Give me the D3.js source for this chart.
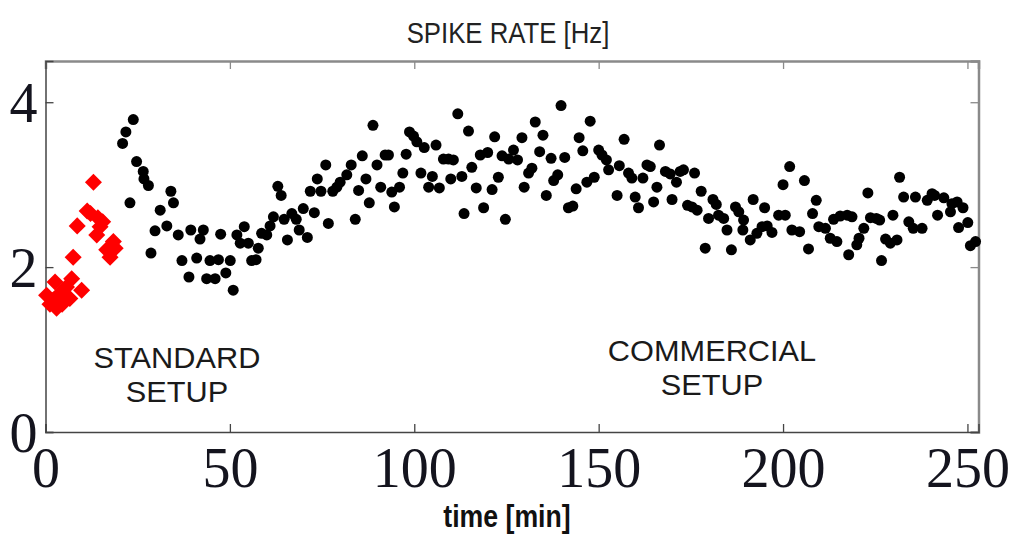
<!DOCTYPE html>
<html>
<head>
<meta charset="utf-8">
<script src="https://cdn.jsdelivr.net/npm/d3@7/dist/d3.min.js"></script>
<style>
  html, body { margin: 0; padding: 0; background: #fff; }
  svg { display: block; }
</style>
</head>
<body>
<svg id="chart" width="1012" height="536"></svg>
<script>
// Spike rate recorded with the standard setup (red diamonds)
const standardTime = [0.3, 1.2, 2.1, 2.6, 3.0, 3.9, 4.5, 5.7, 6.6, 7.1, 7.5, 8.6, 9.8,
  11.3, 12.2, 13.0, 13.9, 14.2, 14.8, 15.5, 16.6, 17.5, 18.4, 18.9];
const standardRate = [1.66, 1.55, 1.60, 1.82, 1.50, 1.68, 1.55, 1.76, 1.62, 1.86, 2.12, 2.50, 1.72,
  2.68, 2.65, 3.03, 2.39, 2.60, 2.49, 2.55, 2.21, 2.12, 2.31, 2.23];

// Spike rate recorded with the commercial setup (black dots)
const commercialTime = [20.9, 21.8, 22.9, 23.8, 24.7, 26.5, 26.7, 27.9, 28.6, 29.7, 31.1, 32.9, 34.0, 34.7,
  36.0, 37.0, 38.9, 39.4, 41.0, 41.9, 42.8, 43.7, 44.6, 46.0, 46.9, 47.5, 48.9, 50.1, 50.9, 51.9,
  52.8, 53.9, 55.0, 55.9, 57.1, 57.7, 58.6, 60.0, 60.9, 61.8, 63.0, 63.9, 64.7, 65.6, 66.8, 68.0,
  68.8, 69.9, 71.0, 71.8, 72.9, 73.7, 74.7, 76.0, 76.7, 77.9, 79.0, 79.9, 81.7, 82.9, 84.0, 84.9,
  85.9, 86.9, 87.8, 88.8, 89.9, 90.9, 92.1, 93.0, 93.9, 94.6, 96.0, 96.9, 97.8, 98.7, 99.8, 100.7,
  101.8, 102.7, 103.9, 104.9, 105.9, 106.8, 107.9, 109.3, 109.9, 110.6, 111.8, 112.9, 113.5, 114.7,
  115.6, 116.8, 117.9, 118.8, 119.9, 121.1, 121.8, 122.8, 123.8, 124.7, 125.6, 126.9, 128.0, 129.2,
  129.8, 131.0, 131.9, 132.8, 134.0, 134.9, 135.8, 137.1, 137.8, 138.9, 139.8, 140.8, 141.8, 143.0,
  143.9, 144.7, 145.7, 146.8, 147.7, 148.8, 150.0, 150.9, 152.1, 152.7, 155.0, 155.6, 156.9, 158.1,
  159.0, 159.9, 160.8, 162.0, 163.1, 164.0, 164.9, 165.8, 166.5, 168.1, 169.4, 169.9, 171.1, 172.1,
  173.0, 174.1, 175.3, 176.0, 176.7, 177.8, 178.9, 179.8, 181.0, 181.9, 182.5, 183.9, 184.8, 186.0,
  187.1, 188.0, 189.1, 189.3, 191.1, 191.9, 192.9, 194.3, 195.0, 195.7, 197.0, 198.8, 200.0, 200.6,
  201.8, 202.4, 204.5, 205.8, 206.9, 208.0, 209.0, 209.7, 211.5, 212.8, 213.7, 214.6, 215.5, 217.4,
  217.8, 218.7, 220.0, 220.6, 221.9, 223.0, 223.7, 225.3, 226.2, 226.7, 227.8, 229.1, 229.8, 230.9,
  231.6, 232.7, 234.1, 235.3, 235.9, 237.7, 239.1, 240.4, 241.1, 241.9, 243.6, 245.4, 245.8, 247.2,
  247.6, 248.8, 250.1, 250.8, 252.2];
const commercialRate = [3.50, 3.64, 2.78, 3.79, 3.28, 3.16, 3.07, 2.99, 2.17, 2.44, 2.69, 2.50, 2.92, 2.78,
  2.39, 2.08, 1.88, 2.45, 2.11, 2.34, 2.45, 1.86, 2.08, 1.86, 2.09, 2.40, 1.93, 2.08, 1.72, 2.39,
  2.29, 2.49, 2.29, 2.08, 2.09, 2.23, 2.41, 2.39, 2.50, 2.61, 2.98, 2.87, 2.58, 2.33, 2.65, 2.58,
  2.45, 2.71, 2.36, 2.92, 2.66, 3.07, 2.92, 3.24, 2.53, 2.92, 2.97, 3.03, 3.12, 3.24, 2.58, 2.93,
  3.35, 3.07, 2.78, 3.72, 3.24, 2.97, 3.36, 3.36, 2.91, 2.73, 2.97, 3.14, 3.37, 3.64, 3.59, 3.52,
  3.14, 3.45, 2.97, 3.10, 3.48, 2.96, 3.31, 3.31, 3.07, 3.30, 3.86, 3.10, 2.65, 3.65,
  3.21, 2.96, 3.36, 2.72, 3.39, 2.94, 3.58, 3.09, 3.35, 2.58, 3.31, 3.42, 3.30, 3.57,
  2.97, 3.14, 3.20, 3.76, 3.40, 3.60, 2.87, 3.32, 3.05, 3.12, 3.96, 3.33, 2.72, 2.74,
  2.95, 3.57, 3.41, 3.03, 3.77, 3.09, 3.42, 3.36, 3.30, 3.18, 2.87, 3.23, 3.55, 3.14,
  3.08, 2.85, 2.72, 3.08, 3.24, 3.22, 2.79, 2.97, 3.48, 3.16, 3.13, 2.82, 3.03, 3.16,
  3.18, 2.75, 2.73, 3.14, 2.69, 2.92, 2.23, 2.59, 2.82, 2.76, 2.63, 2.59, 2.45, 2.21,
  2.73, 2.67, 2.45, 2.57, 2.33, 2.82, 2.41, 2.49, 2.72, 2.50, 2.42, 2.63, 3.00, 2.63,
  3.22, 2.45, 2.43, 3.05, 2.22, 2.65, 2.81, 2.49, 2.47, 2.35, 2.58, 2.31, 2.62, 2.63,
  2.15, 2.61, 2.27, 2.35, 2.47, 2.90, 2.60, 2.59, 2.57, 2.08, 2.34, 2.29, 2.63, 2.33,
  3.09, 2.85, 2.55, 2.47, 2.85, 2.47, 2.81, 2.89, 2.87, 2.63, 2.84, 2.67, 2.77, 2.79,
  2.48, 2.72, 2.54, 2.26, 2.31];

const xTicks = [0, 50, 100, 150, 200, 250];
const yTicks = [0, 2, 4];
const xDomain = [0, 253];
const yDomain = [0, 4.5];

const svg = d3.select("#chart");
const plotLeft = 45.5, plotRight = 978.5, plotTop = 61, plotBottom = 432;

const x = d3.scaleLinear().domain(xDomain).range([plotLeft, plotRight]);
const y = d3.scaleLinear().domain(yDomain).range([plotBottom, plotTop]);

const serif = "'Liberation Serif', 'Times New Roman', serif";
const sans = "'Liberation Sans', Arial, sans-serif";

// Axes with inward ticks on all four sides
const tickLen = 8;
const bottomAxis = d3.axisBottom(x).tickValues(xTicks).tickSize(-tickLen).tickPadding(15).tickFormat(d3.format("d"));
const topAxis = d3.axisTop(x).tickValues(xTicks).tickSize(-tickLen).tickFormat("");
const leftAxis = d3.axisLeft(y).tickValues(yTicks).tickSize(-tickLen).tickPadding(8).tickFormat(d3.format("d"));
const rightAxis = d3.axisRight(y).tickValues(yTicks).tickSize(-tickLen).tickFormat("");

function styleAxis(g, color, width) {
  g.select(".domain").attr("stroke", color).attr("stroke-width", width);
  g.selectAll(".tick line").attr("stroke", color).attr("stroke-width", 1.3);
}

const gTop = svg.append("g").attr("transform", `translate(0,${plotTop})`).call(topAxis);
styleAxis(gTop, "#8a8a8a", 2.5);
const gRight = svg.append("g").attr("transform", `translate(${plotRight},0)`).call(rightAxis);
styleAxis(gRight, "#8a8a8a", 2.5);

const gBottom = svg.append("g").attr("transform", `translate(0,${plotBottom})`).call(bottomAxis);
styleAxis(gBottom, "#444", 1.5);
gBottom.selectAll(".tick text")
  .attr("font-family", serif).attr("font-size", 56).attr("fill", "#14141e")
  .attr("dy", "0.71em");

const gLeft = svg.append("g").attr("transform", `translate(${plotLeft},0)`).call(leftAxis);
styleAxis(gLeft, "#444", 1.5);
gLeft.selectAll(".tick text")
  .attr("font-family", serif).attr("font-size", 56).attr("fill", "#14141e")
  .attr("dy", "0.34em");

// Data points
svg.append("g").selectAll("circle")
  .data(commercialTime.map((t, i) => [t, commercialRate[i]]))
  .join("circle")
  .attr("cx", d => x(d[0]))
  .attr("cy", d => y(d[1]))
  .attr("r", 5.5)
  .attr("fill", "#000");

const diamond = d3.symbol().type(d3.symbolSquare).size(145);
svg.append("g").selectAll("path")
  .data(standardTime.map((t, i) => [t, standardRate[i]]))
  .join("path")
  .attr("d", diamond)
  .attr("transform", d => `translate(${x(d[0])},${y(d[1])}) rotate(45)`)
  .attr("fill", "#ff0000");

// Title and axis label
svg.append("text")
  .attr("transform", "translate(508,43) scale(0.92,1.08)")
  .attr("text-anchor", "middle")
  .attr("font-family", sans).attr("font-size", 28).attr("fill", "#222")
  .text("SPIKE RATE [Hz]");

svg.append("text")
  .attr("transform", "translate(507,527) scale(0.92,1.08)")
  .attr("text-anchor", "middle")
  .attr("font-family", sans).attr("font-size", 29).attr("font-weight", "bold").attr("fill", "#111")
  .text("time [min]");

// Annotations, one text element per line
function label(cx, lines, baseline) {
  lines.forEach((s, i) => {
    svg.append("text")
      .attr("transform", `translate(${cx},${baseline + i * 34}) scale(1.06,1)`)
      .attr("text-anchor", "middle")
      .attr("font-family", sans).attr("font-size", 29).attr("fill", "#1a1a1a")
      .text(s);
  });
}
label(177, ["STANDARD", "SETUP"], 368);
label(712, ["COMMERCIAL", "SETUP"], 361);
</script>
</body>
</html>
